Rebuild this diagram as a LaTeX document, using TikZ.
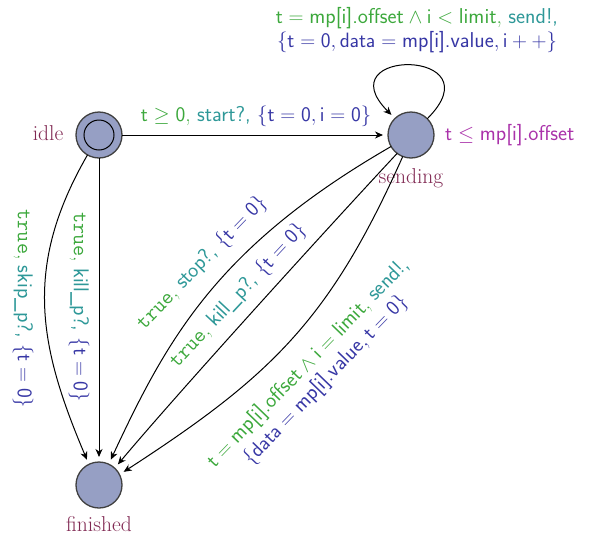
\documentclass[tikz,border=0pt]{standalone}
\usetikzlibrary{arrows.meta}
\definecolor{cgrd}{RGB}{60,168,60}
\definecolor{csyn}{RGB}{46,152,152}
\definecolor{cupd}{RGB}{55,55,165}
\definecolor{cinv}{RGB}{170,50,170}
\definecolor{cname}{RGB}{128,40,82}
\definecolor{cfill}{RGB}{150,159,196}
\definecolor{cbord}{RGB}{64,64,64}
\newcommand{\ms}[1]{$\mathsf{#1}$}
\newcommand{\tf}[1]{\textsf{#1}}
\newcommand{\grd}[1]{\textcolor{cgrd}{#1}}
\newcommand{\syn}[1]{\textcolor{csyn}{#1}}
\newcommand{\upd}[1]{\textcolor{cupd}{#1}}
\begin{document}
\begin{tikzpicture}[x=1pt,y=1pt,
  font=\fontsize{21.5}{24}\selectfont,
  loc/.style={circle, draw=cbord, line width=1.3pt, fill=cfill, minimum size=46pt, inner sep=0pt, outer sep=0pt},
  sname/.style={text=cname, inner sep=0pt, font=\fontsize{21.5}{24}\selectfont},
  lbl/.style={inner sep=0pt, align=center},
  arr/.style={-{Stealth[length=8pt,width=7pt,inset=2.5pt]}, line width=1pt, shorten >=5pt}]
\useasboundingbox (0,0) rectangle (590,-536);
% locations
\node[loc] (idle) at (99,-135) {};
\draw[line width=1pt] (idle.center) circle (15);
\node[loc] (sending) at (411,-135) {};
\node[loc] (finished) at (99,-485) {};
% location names and invariant
\node[sname] (nidle) at (48,-133) {idle};
\node[sname] (nsending) at (411,-178) {sending};
\node[sname] (nfinished) at (99,-524) {finished};
\node[inner sep=0pt, anchor=west, text=cinv] (inv) at (445,-135) {$\mathsf{t}\leq\tf{mp[i].offset}$};
% edges
\draw[arr] (idle) -- (sending);
\node[lbl] (l1) at (256,-116) {\grd{\ms{t\geq 0},} \syn{\tf{start?,}} \upd{\ms{\{t=0,i=0\}}}};
\draw[arr] (sending.45) .. controls +(45:100) and +(135:100) .. (sending.134);
\node[lbl] (l2) at (417,-30) {\grd{$\mathsf{t}=\tf{mp[i].offset}\wedge\mathsf{i}<\tf{limit}$,}~\syn{\tf{send!,}}\\ \upd{$\{\mathsf{t}=\mathsf{0},\mathsf{data}=\tf{mp[i].value},\mathsf{i++}\}$}};
\draw[arr] (idle) -- (finished);
\node[lbl, rotate=-90] (l3) at (79,-307) {\grd{\texttt{true},} \syn{\tf{kill\_p?,}} \upd{\ms{\{t=0\}}}};
\draw[arr] (idle.240) .. controls +(240:129) and +(113:129) .. (finished.116);
\node[lbl, rotate=-90] (l4) at (23,-309) {\grd{\texttt{true},} \syn{\tf{skip\_p?,}} \upd{\ms{\{t=0\}}}};
\draw[arr] (sending.210) .. controls +(210:200) and +(65:140) .. (finished.65);
\node[lbl, rotate=46] (l5) at (202,-263) {\grd{\texttt{true},} \syn{\tf{stop?,}} \upd{\ms{\{t=0\}}}};
\draw[arr] (sending.233) .. controls +(227:100) and +(50:100) .. (finished.47);
\node[lbl, rotate=47] (l6) at (238,-296) {\grd{\texttt{true},} \syn{\tf{kill\_p?,}} \upd{\ms{\{t=0\}}}};
\draw[arr] (sending.249) .. controls +(246:180) and +(33:180) .. (finished.27);
\node[lbl, rotate=46] (l7) at (317,-372) {\grd{$\mathsf{t}=\tf{mp[i].offset}\wedge\mathsf{i}=\tf{limit}$,}~\syn{\tf{send!,}}\\ \upd{$\{\mathsf{data}=\tf{mp[i].value},\mathsf{t}=\mathsf{0}\}$}};
\end{tikzpicture}
\end{document}
